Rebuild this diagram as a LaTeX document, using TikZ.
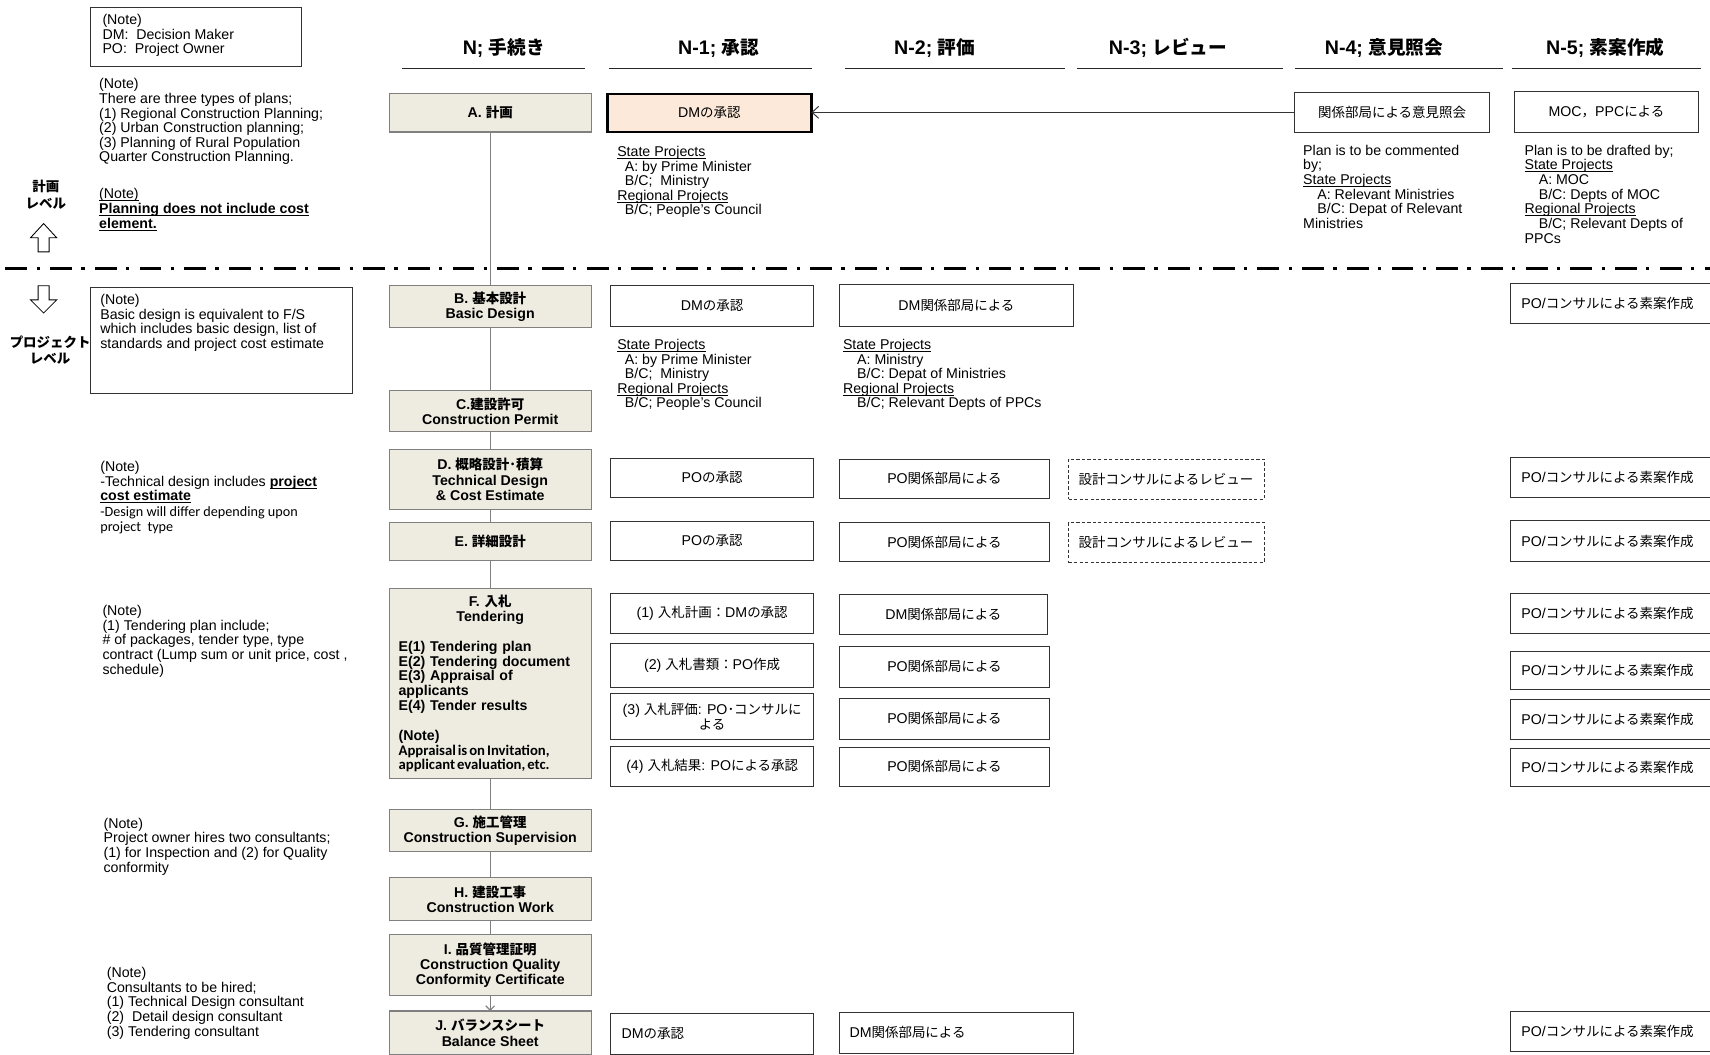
\documentclass[tikz,border=0pt]{standalone}
\usepackage{fontspec}
\setmainfont{Liberation Sans}
\newfontfamily\jpf{Noto Sans CJK JP}[Scale=0.95]
\newfontfamily\calf{Carlito}
\newcommand{\jp}[1]{{\jpf #1}}
\newcommand{\lbox}[2]{\makebox[#1][l]{#2}}
% underline drawn just below the baseline, so it does not push lines apart
\newsavebox\ulbox
\newcommand{\ul}[1]{\sbox\ulbox{#1}\rlap{\rule[-2pt]{\wd\ulbox}{0.65pt}}\usebox\ulbox}
\usetikzlibrary{arrows.meta}
\definecolor{procfill}{HTML}{EEECE1}
\definecolor{peach}{HTML}{FDE9D9}
\definecolor{edgegray}{HTML}{808080}
\begin{document}
\begin{tikzpicture}[x=1pt,y=-1pt,
  every node/.style={inner sep=0pt,outer sep=0pt},
  note/.style={anchor=north west,align=left,font=\fontsize{13}{13.4}\selectfont},
  hdr/.style={font=\fontsize{18}{20}\selectfont\bfseries},
  hline/.style={line width=1.1pt,black!85},
  proc/.style={draw=edgegray,line width=1pt,fill=procfill,minimum width=185pt,align=center,font=\fontsize{13}{14}\selectfont\bfseries},
  wbox/.style={draw=black!80,line width=0.8pt,fill=white,align=center,font=\fontsize{13}{14}\selectfont},
  dbox/.style={wbox,dashed,dash pattern=on 3pt off 2pt,line width=0.7pt},
  draftbox/.style={wbox,anchor=west,minimum height=37pt,inner xsep=10pt},
  lvl/.style={align=center,font=\fontsize{13}{15}\selectfont\bfseries},
  flow/.style={draw=edgegray,line width=1pt},
  hollow/.style={draw=black,line width=0.8pt,fill=white,line join=miter},
]
\fill[white] (0,0) rectangle (1568,967);
\useasboundingbox (0,0) rectangle (1568,967);

% ---------- column headers ----------
\node[hdr] (hN)  at (462,44)  {N; \jp{手続き}};
\node[hdr] (hN1) at (659,44)  {N-1; \jp{承認}};
\node[hdr] (hN2) at (857,44)  {N-2; \jp{評価}};
\node[hdr] (hN3) at (1071,44) {N-3; \jp{レビュー}};
\node[hdr] (hN4) at (1269,44) {N-4; \jp{意見照会}};
\node[hdr] (hN5) at (1472,44) {N-5; \jp{素案作成}};
\draw[hline] (369,63) -- (536,63);
\draw[hline] (558,63) -- (745,63);
\draw[hline] (775,63) -- (977,63);
\draw[hline] (988,63) -- (1176,63);
\draw[hline] (1187,63) -- (1378,63);
\draw[hline] (1386,63) -- (1560,63);

% ---------- level divider ----------
\coordinate (divL) at (5,246);
\coordinate (divR) at (1568,246);

% ---------- procedure column ----------
\node[proc,minimum height=35pt] (A) at (449.5,103.5) {A. \jp{計画}};
\node[proc,minimum height=38pt] (B) at (449.5,281) {B. \jp{基本設計}\\Basic Design};
\node[proc,minimum height=38pt] (C) at (449.5,377) {C.\jp{建設許可}\\Construction Permit};
\node[proc,minimum height=55pt] (D) at (449.5,439.5) {D. \jp{概略設計･積算}\\Technical Design\\\& Cost Estimate};
\node[proc,minimum height=35pt] (E) at (449.5,496.5) {E. \jp{詳細設計}};
\node[proc,minimum height=174pt,text width=168pt,align=left,font=\fontsize{13}{13.6}\selectfont\bfseries] (F) at (449.5,627) {%
\makebox[\linewidth]{F. \jp{入札}}\\
\makebox[\linewidth]{Tendering}\\[13.6pt]
E(1) Tendering plan\\
E(2) Tendering document\\
E(3) Appraisal of\\
applicants\\
E(4) Tender results\\[13.6pt]
(Note)\\
{\calf\fontsize{13.5}{13.6}\selectfont\spaceskip=1.8pt plus 0.5pt Appraisal is on Invitation,}\\
{\calf\fontsize{13.5}{13.6}\selectfont\spaceskip=1.8pt plus 0.5pt applicant evaluation, etc.}};
\node[proc,minimum height=39pt] (G) at (449.5,761.5) {G. \jp{施工管理}\\Construction Supervision};
\node[proc,minimum height=39pt] (H) at (449.5,824.5) {H. \jp{建設工事}\\Construction Work};
\node[proc,minimum height=56pt] (I) at (449.5,885) {I. \jp{品質管理証明}\\Construction Quality\\Conformity Certificate};
\node[proc,minimum height=40pt] (J) at (449.5,947) {J. \jp{バランスシート}\\Balance Sheet};

\draw[flow] (A.south) -- (B.north);
\draw[flow] (B.south) -- (C.north);
\draw[flow] (C.south) -- (D.north);
\draw[flow] (D.south) -- (E.north);
\draw[flow] (E.south) -- (F.north);
\draw[flow] (F.south) -- (G.north);
\draw[flow] (G.south) -- (H.north);
\draw[flow] (H.south) -- (I.north);
\draw[flow,-{Straight Barb[length=4pt,width=8pt]}] (I.south) -- (J.north);

\draw[line width=2.6pt,dash pattern=on 20pt off 8.5pt on 3pt off 9.5pt] (divL) -- (divR);

% ---------- N-1 approval ----------
\node[wbox,fill=peach,draw=black,line width=2.2pt,minimum width=187pt,minimum height=35pt] (A1) at (650.5,103.5) {DM\jp{の承認}};
\node[wbox,minimum width=186pt,minimum height=37pt] (B1) at (653,280.5) {DM\jp{の承認}};
\node[wbox,minimum width=186pt,minimum height=36pt] (D1) at (653,438) {PO\jp{の承認}};
\node[wbox,minimum width=186pt,minimum height=36pt] (E1) at (653,496) {PO\jp{の承認}};
\node[wbox,minimum width=186pt,minimum height=37pt] (F1) at (653,562.5) {(1) \jp{入札計画：}DM\jp{の承認}};
\node[wbox,minimum width=186pt,minimum height=40pt] (F2) at (653,610) {(2) \jp{入札書類：}PO\jp{作成}};
\node[wbox,minimum width=186pt,minimum height=42pt] (F3) at (653,657) {(3) \jp{入札評価}: PO\jp{･コンサルに}\\\jp{よる}};
\node[wbox,minimum width=186pt,minimum height=37pt] (F4) at (653,702.5) {(4) \jp{入札結果}: PO\jp{による承認}};
\node[wbox,minimum width=186pt,minimum height=38pt,inner xsep=10pt] (J1) at (653,948) {\lbox{166pt}{DM\jp{の承認}}};

\node[note] (nA1) at (566,134) {\ul{State Projects}\\\hspace*{7pt}A: by Prime Minister\\\hspace*{7pt}B/C;\ \ Ministry\\\ul{Regional Projects}\\\hspace*{7pt}B/C; People's Council};
\node[note] (nB1) at (566,311) {\ul{State Projects}\\\hspace*{7pt}A: by Prime Minister\\\hspace*{7pt}B/C;\ \ Ministry\\\ul{Regional Projects}\\\hspace*{7pt}B/C; People's Council};

% ---------- N-2 evaluation ----------
\node[wbox,minimum width=214pt,minimum height=38pt] (B2) at (877,280) {DM\jp{関係部局による}};
\node[wbox,minimum width=192pt,minimum height=36pt] (D2) at (866,439) {PO\jp{関係部局による}};
\node[wbox,minimum width=192pt,minimum height=36pt] (E2) at (866,497) {PO\jp{関係部局による}};
\node[wbox,minimum width=190pt,minimum height=37pt] (F1b) at (865,563.5) {DM\jp{関係部局による}};
\node[wbox,minimum width=192pt,minimum height=37pt] (F2b) at (866,611.5) {PO\jp{関係部局による}};
\node[wbox,minimum width=192pt,minimum height=38pt] (F3b) at (866,659) {PO\jp{関係部局による}};
\node[wbox,minimum width=192pt,minimum height=36pt] (F4b) at (866,703) {PO\jp{関係部局による}};
\node[wbox,minimum width=214pt,minimum height=38pt,inner xsep=9pt] (J2) at (877,947) {\lbox{196pt}{DM\jp{関係部局による}}};

\node[note] (nB2) at (773,311) {\ul{State Projects}\\\hspace*{13pt}A: Ministry\\\hspace*{13pt}B/C: Depat of Ministries\\\ul{Regional Projects}\\\hspace*{13pt}B/C; Relevant Depts of PPCs};

% ---------- N-3 review ----------
\node[dbox,minimum width=179pt,minimum height=37pt,inner xsep=9pt] (D3) at (1069.5,439.5) {\lbox{161pt}{\jp{設計コンサルによるレビュー}}};
\node[dbox,minimum width=179pt,minimum height=37pt,inner xsep=9pt] (E3) at (1069.5,497.5) {\lbox{161pt}{\jp{設計コンサルによるレビュー}}};

% ---------- N-4 consultation ----------
\node[wbox,minimum width=179pt,minimum height=36pt] (A4) at (1276.5,103) {\jp{関係部局による意見照会}};
\node[note] (nA4) at (1195,133) {Plan is to be commented\\by;\\\ul{State Projects}\\\hspace*{13pt}A: Relevant Ministries\\\hspace*{13pt}B/C: Depat of Relevant\\Ministries};
\draw[draw=black!80,line width=0.9pt,-{Straight Barb[length=6pt,width=11pt]}] (A4.west) -- (A4.west -| A1.east);

% ---------- N-5 drafting ----------
\node[wbox,minimum width=168pt,minimum height=37pt] (A5) at (1473,102.5) {MOC\jp{，}PPC\jp{による}};
\node[note] (nA5) at (1398,133) {Plan is to be drafted by;\\\ul{State Projects}\\\hspace*{13pt}A: MOC\\\hspace*{13pt}B/C: Depts of MOC\\\ul{Regional Projects}\\\hspace*{13pt}B/C; Relevant Depts of\\PPCs};
\node[draftbox] (B5)  at (1385,278.5) {\lbox{175pt}{PO/\jp{コンサルによる素案作成}}};
\node[draftbox] (D5)  at (1385,438)   {\lbox{175pt}{PO/\jp{コンサルによる素案作成}}};
\node[draftbox] (E5)  at (1385,496)   {\lbox{175pt}{PO/\jp{コンサルによる素案作成}}};
\node[draftbox] (F1c) at (1385,562.5) {\lbox{175pt}{PO/\jp{コンサルによる素案作成}}};
\node[draftbox,minimum height=35pt] (F2c) at (1385,614.5) {\lbox{175pt}{PO/\jp{コンサルによる素案作成}}};
\node[draftbox] (F3c) at (1385,659.5) {\lbox{175pt}{PO/\jp{コンサルによる素案作成}}};
\node[draftbox,minimum height=35pt] (F4c) at (1385,703.5) {\lbox{175pt}{PO/\jp{コンサルによる素案作成}}};
\node[draftbox] (J5)  at (1385,945.5) {\lbox{175pt}{PO/\jp{コンサルによる素案作成}}};

% ---------- left-hand notes ----------
\node[draw=black!80,line width=0.8pt,minimum width=193pt,minimum height=54pt,anchor=north west] (dmbox) at (83,7) {};
\node[note] (dmtxt) at (94,13) {(Note)\\DM:\ \ Decision Maker\\PO:\ \ Project Owner};
\node[note] (n1) at (91,72) {(Note)\\There are three types of plans;\\(1) Regional Construction Planning;\\(2) Urban Construction planning;\\(3) Planning of Rural Population\\Quarter Construction Planning.};
\node[note] (n2) at (91,173) {\ul{(Note)}\\\textbf{\ul{Planning does not include cost}}\\\textbf{\ul{element.}}};
\node[draw=black!80,line width=0.8pt,minimum width=240pt,minimum height=97pt,anchor=north west] (n3box) at (83,264) {};
\node[note] (n3) at (92,270) {(Note)\\Basic design is equivalent to F/S\\which includes basic design, list of\\standards and project cost estimate};
\node[note] (n4) at (92,423) {(Note)\\-Technical design includes \textbf{\ul{project}}\\\textbf{\ul{cost estimate}}\\[1pt]{\calf\fontsize{13}{14}\selectfont -Design will differ depending upon}\\{\calf\fontsize{13}{14}\selectfont project\ \ type}};
\node[note] (n5) at (94,555) {(Note)\\(1) Tendering plan include;\\\# of packages, tender type, type\\contract (Lump sum or unit price, cost ,\\schedule)};
\node[note] (n6) at (95,750) {(Note)\\Project owner hires two consultants;\\(1) for Inspection and (2) for Quality\\conformity};
\node[note] (n7) at (98,887) {(Note)\\Consultants to be hired;\\(1) Technical Design consultant\\(2)\ \ Detail design consultant\\(3) Tendering consultant};

% ---------- level labels and arrows ----------
\node[lvl] (lvPlan) at (42,178.5) {\jp{計画}\\\jp{レベル}};
\node[lvl] (lvProj) at (46,321) {\jp{プロジェクト}\\\jp{レベル}};
\draw[hollow] (40,205) -- (52,218) -- (45,218) -- (45,231) -- (35,231) -- (35,218) -- (28,218) -- cycle;
\draw[hollow] (35,262) -- (45,262) -- (45,275) -- (52,275) -- (40,287) -- (28,275) -- (35,275) -- cycle;
\end{tikzpicture}
\end{document}
